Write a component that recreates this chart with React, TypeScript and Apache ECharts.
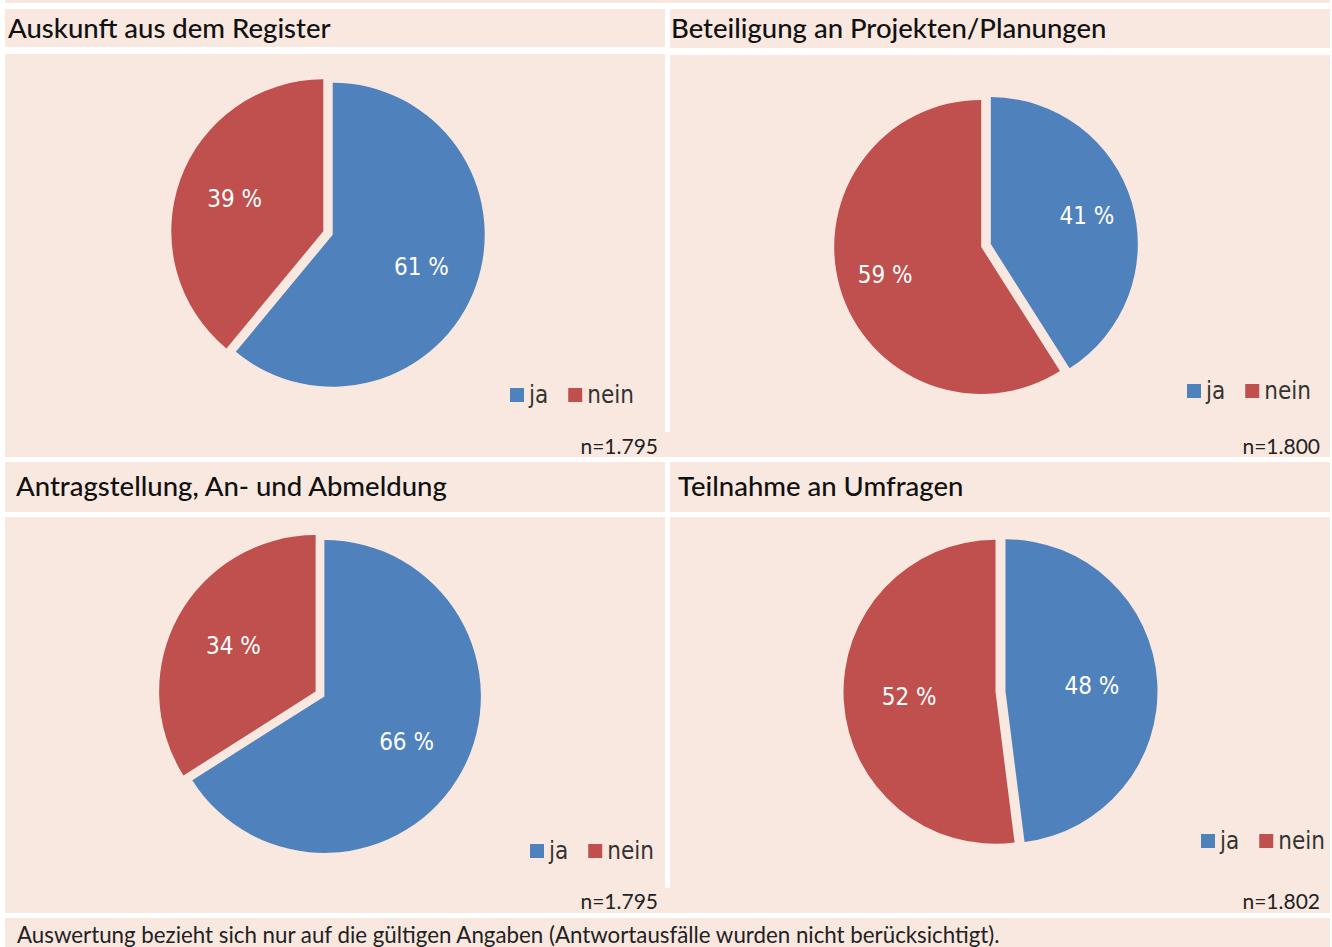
import React, { useEffect, useRef } from "react";
import * as echarts from "echarts";

// ---- data ----
const categories = ["ja", "nein"];
const panelTitles = [
  "Auskunft aus dem Register",
  "Beteiligung an Projekten/Planungen",
  "Antragstellung, An- und Abmeldung",
  "Teilnahme an Umfragen",
];
const jaValues = [61, 41, 66, 48];
const neinValues = [39, 59, 34, 52];
const sampleSizes = ["n=1.795", "n=1.800", "n=1.795", "n=1.802"];
const footnote =
  "Auswertung bezieht sich nur auf die gültigen Angaben (Antwortausfälle wurden nicht berücksichtigt).";

// ---- styling / layout ----
const BLUE = "#4F81BD";
const RED = "#C0504D";
const PEACH = "#F9E8E0";
const colors = [BLUE, RED];
const NARROW = '"Liberation Sans Narrow", "DejaVu Sans Condensed", sans-serif';

const pieLayout = [
  { cx: 328, cy: 233, r: 152, lf: 0.6 },
  { cx: 986, cy: 245.5, r: 147, lf: 0.66 },
  { cx: 320, cy: 694, r: 156.5, lf: 0.58 },
  { cx: 1000.5, cy: 691.5, r: 152, lf: 0.55 },
];
const titlePos = [
  { x: 8, y: 27 },
  { x: 671, y: 27 },
  { x: 16, y: 485 },
  { x: 678, y: 485 },
];
const legendPos = [
  { left: 510, cy: 395 },
  { left: 1187, cy: 391 },
  { left: 530, cy: 851 },
  { left: 1201, cy: 841 },
];
const nPos = [
  { x: 658, y: 445 },
  { x: 1320, y: 445 },
  { x: 658, y: 900 },
  { x: 1320, y: 900 },
];
const bgRects = [
  [5, 0, 1325, 3],
  [5, 9, 660, 38],
  [670, 9, 660, 39],
  [5, 54, 660, 403],
  [670, 55, 660, 402],
  [665, 432, 5, 25],
  [5, 462, 660, 50],
  [670, 462, 660, 50],
  [5, 517, 660, 396],
  [670, 517, 660, 396],
  [665, 888, 5, 25],
  [5, 918, 1325, 29],
];

export default function App() {
  const ref = useRef<HTMLDivElement>(null);

  useEffect(() => {
    if (!ref.current) return;
    const chart = echarts.init(ref.current, undefined, { renderer: "svg" });

    const graphics: any[] = bgRects.map(([x, y, w, h]) => ({
      type: "rect",
      shape: { x, y, width: w, height: h },
      style: { fill: PEACH },
      silent: true,
      z: -10,
    }));
    panelTitles.forEach((t, i) => {
      graphics.push({
        type: "text",
        x: titlePos[i].x,
        y: titlePos[i].y,
        style: {
          text: t,
          fill: "#111",
          font: '500 27.5px Lato, "Noto Sans", sans-serif',
          verticalAlign: "middle",
        },
        silent: true,
      });
      graphics.push({
        type: "text",
        x: nPos[i].x,
        y: nPos[i].y,
        style: {
          text: sampleSizes[i],
          fill: "#222",
          font: '21px Lato, "Noto Sans", sans-serif',
          align: "right",
          verticalAlign: "middle",
        },
        silent: true,
      });
    });
    graphics.push({
      type: "text",
      x: 17,
      y: 934,
      style: {
        text: footnote,
        fill: "#222",
        font: '22.3px Lato, "Noto Sans", sans-serif',
        verticalAlign: "middle",
      },
      silent: true,
    });

    const series: any[] = [];
    pieLayout.forEach((p, i) => {
      const vals = [jaValues[i], neinValues[i]];
      const data = categories.map((c, k) => ({
        name: c,
        value: vals[k],
        selected: true,
        itemStyle: { color: colors[k] },
      }));
      series.push({
        type: "pie",
        center: [p.cx, p.cy],
        radius: [0, p.r],
        startAngle: 90,
        clockwise: true,
        selectedMode: "multiple",
        selectedOffset: 5,
        avoidLabelOverlap: false,
        label: { show: false },
        labelLine: { show: false },
        emphasis: { disabled: true },
        select: { itemStyle: { borderWidth: 0 } },
        itemStyle: { borderWidth: 0 },
        data,
        z: 2,
      });
      // label layer: transparent pie whose inner-label radius matches the reference
      series.push({
        type: "pie",
        center: [p.cx, p.cy],
        radius: [0, p.r * p.lf * 2],
        startAngle: 90,
        clockwise: true,
        selectedMode: "multiple",
        selectedOffset: 5,
        avoidLabelOverlap: false,
        silent: true,
        emphasis: { disabled: true },
        select: { itemStyle: { borderWidth: 0, color: "rgba(0,0,0,0)" } },
        itemStyle: { color: "rgba(0,0,0,0)", borderWidth: 0 },
        label: {
          show: true,
          position: "inside",
          formatter: "{c} %",
          color: "#fff",
          fontSize: 24,
          fontFamily: NARROW,
          textBorderWidth: 0,
        },
        labelLine: { show: false },
        data: categories.map((c, k) => ({
          name: c,
          value: vals[k],
          selected: true,
          itemStyle: { color: "rgba(0,0,0,0)" },
        })),
        z: 3,
      });
    });

    const legends = legendPos.map((lp) => ({
      show: true,
      left: lp.left,
      top: lp.cy - 14,
      orient: "horizontal",
      padding: 0,
      itemGap: 20,
      itemWidth: 14,
      itemHeight: 14,
      icon: "rect",
      selectedMode: false,
      data: categories.map((c, k) => ({ name: c, itemStyle: { color: colors[k] } })),
      textStyle: {
        color: "#333",
        fontSize: 24,
        lineHeight: 28,
        fontFamily: NARROW,
        padding: [0, 0, 0, 0],
      },
    }));

    chart.setOption({
      animation: false,
      backgroundColor: "#fff",
      legend: legends,
      graphic: graphics,
      series,
    });

    return () => chart.dispose();
  }, []);

  return (
    <div
      ref={ref}
      style={{ position: "fixed", left: 0, top: 0, width: 1332, height: 947 }}
    />
  );
}
